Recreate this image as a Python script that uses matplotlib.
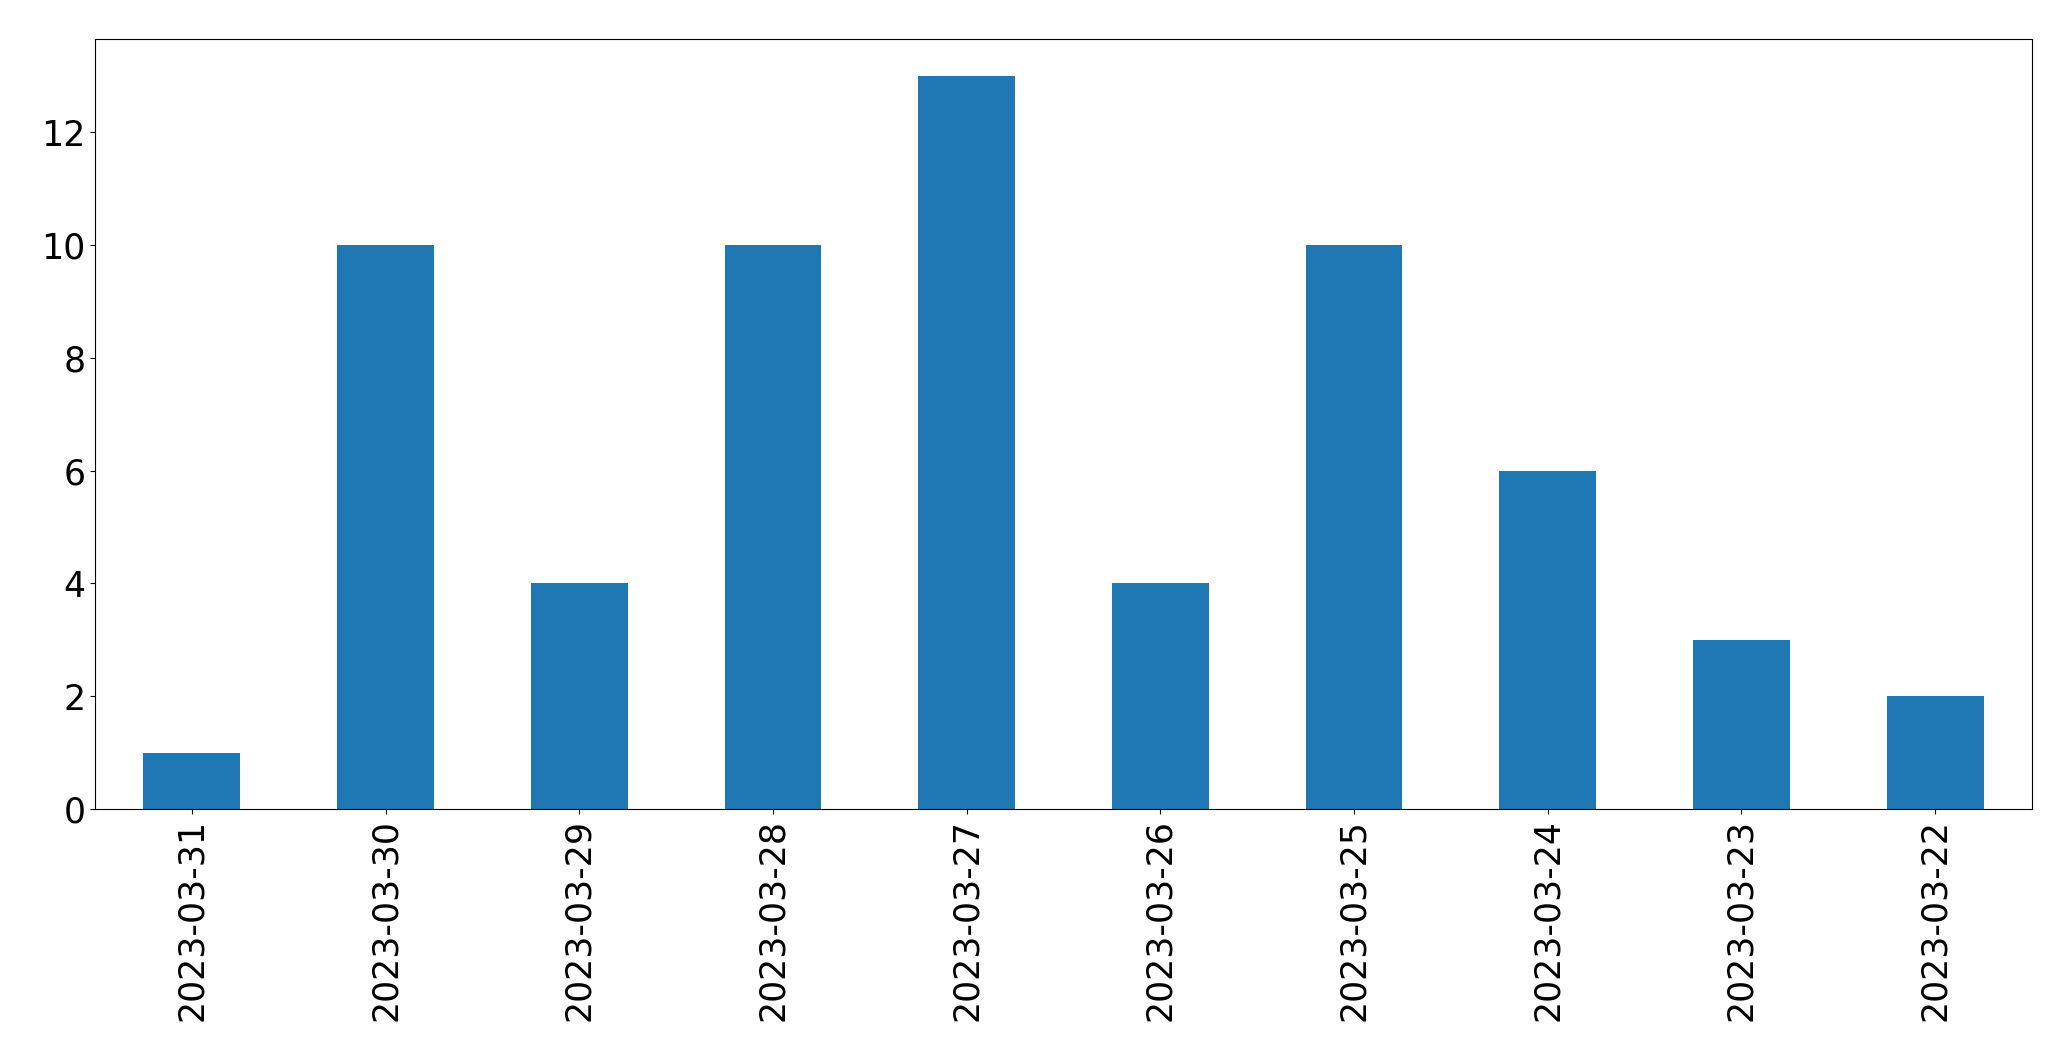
import matplotlib
matplotlib.use("Agg")
import matplotlib.pyplot as plt

dates = ["2023-03-31", "2023-03-30", "2023-03-29", "2023-03-28", "2023-03-27",
         "2023-03-26", "2023-03-25", "2023-03-24", "2023-03-23", "2023-03-22"]
counts = [1, 10, 4, 10, 13, 4, 10, 6, 3, 2]

fig = plt.figure(figsize=(20.71, 10.61), dpi=100)
ax = fig.add_axes([95/2071, 1 - 809/1061, (2032 - 95)/2071, (809 - 39)/1061])
x = list(range(len(dates)))
ax.bar(x, counts, width=0.5, color="#1f77b4")
ax.set_xlim(-0.5, len(dates) - 0.5)
ax.set_ylim(0, 13.65)
ax.set_xticks(x)
ax.set_xticklabels(dates, rotation=90)
ax.tick_params(labelsize=25)
fig.savefig("out.png", dpi=100)
